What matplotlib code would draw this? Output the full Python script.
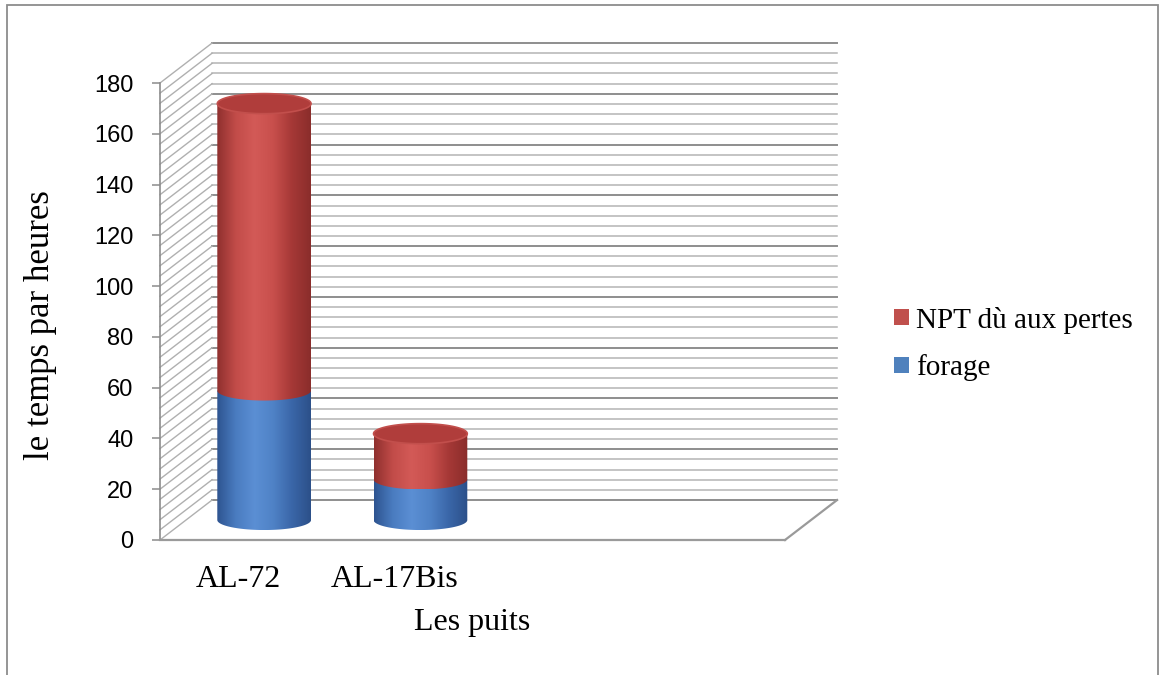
import numpy as np
import matplotlib
matplotlib.use("Agg")
import matplotlib.pyplot as plt
from matplotlib.patches import Polygon, Patch, Rectangle
from matplotlib.colors import LinearSegmentedColormap

# temps de forage et NPT par puits (heures)
wells = ["AL-72", "AL-17Bis"]
forage = [51, 16]
npt_pertes = [113, 18]
series_names = ["NPT dù aux pertes", "forage"]
yticks = [0, 20, 40, 60, 80, 100, 120, 140, 160, 180]

n_slots = 4            # the category axis keeps two empty slots on the right
depth_x = 1 / 3        # depth of the box, in x data units
depth_y = 15.75        # depth of the box, in y data units
half_w = 0.3           # cylinder radius along x
ell_h = 3.95           # cylinder ellipse half height

serif = "Liberation Serif"

red_cmap = LinearSegmentedColormap.from_list(
    "red_cyl", ["#8f302e", "#c24c49", "#d35a57", "#c84f4c", "#a53836", "#8a2d2b"])
blue_cmap = LinearSegmentedColormap.from_list(
    "blue_cyl", ["#2e5490", "#4a7cc0", "#5b8fd4", "#4f82c6", "#3a66a8", "#2c5089"])

fig = plt.figure(figsize=(11.6, 6.75), dpi=100)
fig.add_artist(Rectangle((7 / 1160, -0.02), 1151 / 1160, 1.02 - 5 / 675,
                         transform=fig.transFigure, fill=False,
                         edgecolor="#8c8c8c", linewidth=1.3))

ax = fig.add_axes([160 / 1160, 135 / 675, 625 / 1160, 457 / 675])
ax.set_xlim(-0.5, n_slots - 0.5)
ax.set_ylim(0, 180)
ax.autoscale(False)

x0, x1 = -0.5, n_slots - 0.5

# back wall and side wall grid
for v in np.arange(0, 181, 4):
    major = v % 20 == 0
    col = "#8e8e8e" if major else "#b4b4b4"
    lw = 1.4 if major else 1.1
    ax.plot([x0 + depth_x, x1 + depth_x], [v + depth_y, v + depth_y],
            color=col, lw=lw, clip_on=False, zorder=1)
    ax.plot([x0, x0 + depth_x], [v, v + depth_y],
            color="#b0b0b0", lw=1.0, clip_on=False, zorder=1)

# floor edges
ax.plot([x1, x1 + depth_x], [0, depth_y], color="#9a9a9a", lw=1.6,
        clip_on=False, zorder=1)


def cylinder_piece(xc, y0, y1, cmap):
    t = np.linspace(np.pi, 2 * np.pi, 80)
    ex = xc + half_w * np.cos(t)
    ey = y0 + ell_h * np.sin(t)
    pts = np.vstack([[xc - half_w, y1], np.column_stack([ex, ey]), [xc + half_w, y1]])
    poly = Polygon(pts, closed=True, facecolor="none", edgecolor="none")
    ax.add_patch(poly)
    grad = np.linspace(0, 1, 256).reshape(1, -1)
    im = ax.imshow(grad, extent=[xc - half_w, xc + half_w, y0 - ell_h, y1],
                   cmap=cmap, aspect="auto", origin="lower", zorder=3,
                   interpolation="bilinear")
    im.set_clip_path(poly)


for i, name in enumerate(wells):
    xc = i + depth_x / 2
    base = depth_y / 2
    cylinder_piece(xc, base, base + forage[i], blue_cmap)
    top = base + forage[i] + npt_pertes[i]
    cylinder_piece(xc, base + forage[i], top, red_cmap)
    t = np.linspace(0, 2 * np.pi, 120)
    cap = Polygon(np.column_stack([xc + half_w * np.cos(t), top + ell_h * np.sin(t)]),
                  closed=True, facecolor="#b03d3b", edgecolor="#c24f4c",
                  linewidth=1.2, zorder=4)
    ax.add_patch(cap)

ax.set_xlim(x0, x1)
ax.set_ylim(0, 180)

for s in ["top", "right"]:
    ax.spines[s].set_visible(False)
ax.spines["left"].set_color("#8c8c8c")
ax.spines["bottom"].set_color("#9a9a9a")
ax.spines["bottom"].set_linewidth(1.6)
ax.spines["left"].set_linewidth(1.2)

ax.set_yticks(yticks)
ax.set_yticklabels([str(v) for v in yticks], family="Liberation Sans", fontsize=17)
ax.tick_params(axis="y", length=6, width=1.1, color="#8c8c8c", pad=13)
ax.set_xticks(range(len(wells)))
ax.set_xticklabels(wells, family=serif, fontsize=23)
ax.tick_params(axis="x", length=0, pad=18)

ax.set_xlabel("Les puits", family=serif, fontsize=23, labelpad=10)
ax.set_ylabel("le temps par heures", family=serif, fontsize=25)
ax.yaxis.set_label_coords(-0.165, 0.47)

handles = [Patch(facecolor="#c0504d", edgecolor="none"),
           Patch(facecolor="#4f81bd", edgecolor="none")]
fig.legend(handles, series_names, loc="center left",
           bbox_to_anchor=(868 / 1160, (675 - 344) / 675), frameon=False,
           prop={"family": serif, "size": 21}, handlelength=0.5,
           handleheight=0.5, handletextpad=0.25, labelspacing=0.72)

fig.savefig("out.png", dpi=100, facecolor="white")
